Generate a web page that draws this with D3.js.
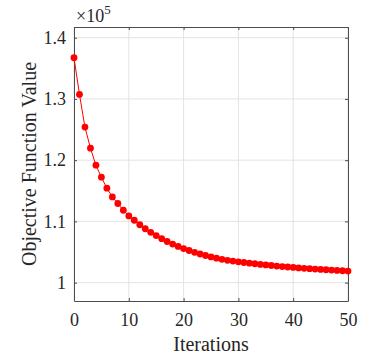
<!DOCTYPE html>
<html>
<head>
<meta charset="utf-8">
<script src="https://cdn.jsdelivr.net/npm/d3@7"></script>
<style>
  body { margin: 0; background: #fff; }
  svg text { font-family: "Liberation Serif", "DejaVu Serif", serif !important; fill: #262626; }
</style>
</head>
<body>
<div id="chart"></div>
<script>
// objective value per iteration
const iterations = d3.range(0, 51);
const objective = [
  136730, 130740, 125400, 121960, 119180, 117220, 115420, 114000, 112920, 111820,
  110890, 110190, 109450, 108800, 108220, 107680, 107180, 106720, 106300, 105920,
  105570, 105250, 104950, 104680, 104430, 104200, 103990, 103800, 103650, 103520,
  103400, 103290, 103180, 103080, 102980, 102890, 102800, 102710, 102630, 102550,
  102480, 102410, 102340, 102280, 102220, 102160, 102100, 102050, 102000, 101940,
  101890
];
const xTicks = [0, 10, 20, 30, 40, 50];
const yTicks = [100000, 110000, 120000, 130000, 140000];

const W = 368, H = 355;
const margin = {top: 27, right: 20, bottom: 54, left: 74};
const width = W - margin.left - margin.right,
      height = H - margin.top - margin.bottom;

const svg = d3.select("#chart").append("svg")
    .attr("width", W).attr("height", H);
const g = svg.append("g").attr("transform", `translate(${margin.left},${margin.top})`);

const x = d3.scaleLinear().domain([0, 50]).range([0, width]);
const y = d3.scaleLinear().domain([97000, 141750]).range([height, 0]);

// grid
g.selectAll(".gx").data(xTicks).enter().append("line")
    .attr("x1", d => x(d)).attr("x2", d => x(d))
    .attr("y1", 0).attr("y2", height)
    .attr("stroke", "#e3e3e3").attr("stroke-width", 1);
g.selectAll(".gy").data(yTicks).enter().append("line")
    .attr("x1", 0).attr("x2", width)
    .attr("y1", d => y(d)).attr("y2", d => y(d))
    .attr("stroke", "#e3e3e3").attr("stroke-width", 1);

// axes (inward ticks, box)
const fmt = d => d3.format(".1f")(d / 1e5).replace(/\.0$/, "");
const axB = g.append("g").attr("transform", `translate(0,${height})`)
    .call(d3.axisBottom(x).tickValues(xTicks).tickSizeInner(-3).tickSizeOuter(0).tickPadding(12));
const axL = g.append("g")
    .call(d3.axisLeft(y).tickValues(yTicks).tickFormat(fmt).tickSizeInner(-3).tickSizeOuter(0).tickPadding(8));
const axT = g.append("g")
    .call(d3.axisTop(x).tickValues(xTicks).tickSizeInner(-3).tickSizeOuter(0).tickFormat(""));
const axR = g.append("g").attr("transform", `translate(${width},0)`)
    .call(d3.axisRight(y).tickValues(yTicks).tickSizeInner(-3).tickSizeOuter(0).tickFormat(""));

[axB, axL, axT, axR].forEach(a => {
  a.attr("font-family", null);
  a.select(".domain").attr("stroke", "#4d4d4d").attr("stroke-width", 1);
  a.selectAll(".tick line").attr("stroke", "#4d4d4d");
  a.selectAll(".tick text")
    .style("font-size", "18px")
    .attr("fill", "#262626");
});

// line + markers
g.append("path")
    .datum(objective)
    .attr("fill", "none")
    .attr("stroke", "#ff0000")
    .attr("stroke-width", 1)
    .attr("d", d3.line().x((d, i) => x(iterations[i])).y(d => y(d)));

g.selectAll(".dot").data(objective).enter().append("circle")
    .attr("cx", (d, i) => x(iterations[i]))
    .attr("cy", d => y(d))
    .attr("r", 3.4)
    .attr("fill", "#ff0000");

// exponent label
const ex = svg.append("text").attr("x", 76).attr("y", 22).style("font-size", "18px");
ex.append("tspan").text("\u00d710");
ex.append("tspan").attr("dy", -8).style("font-size", "13px").text("5");

// axis titles
svg.append("text")
    .attr("x", margin.left + width / 2).attr("y", 351)
    .attr("text-anchor", "middle")
    .style("font-size", "20px")
    .text("Iterations");

svg.append("text")
    .attr("transform", `translate(36,${margin.top + height / 2}) rotate(-90)`)
    .attr("text-anchor", "middle")
    .style("font-size", "20px")
    .text("Objective Function Value");
</script>
</body>
</html>
